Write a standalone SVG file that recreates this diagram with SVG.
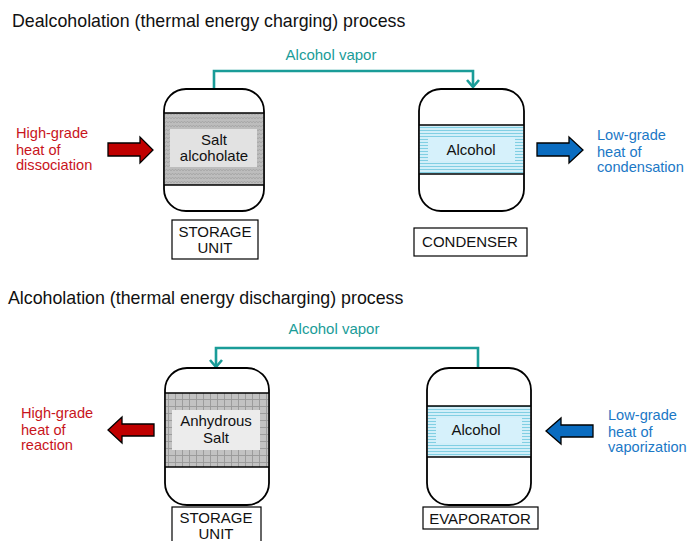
<svg xmlns="http://www.w3.org/2000/svg" width="688" height="541" viewBox="0 0 688 541">
  <style>
    text { font-family: "Liberation Sans", Arial, sans-serif; }
    .title { font-size: 17.8px; fill: #111; }
    .lbl { font-size: 15px; fill: #111; }
    .red { font-size: 14.6px; fill: #c8141c; }
    .blue { font-size: 14.6px; fill: #1b78c6; }
    .teal { font-size: 15px; fill: #1a9c98; }
    .vessel { fill: #fff; stroke: #000; stroke-width: 1.8; }
    .bandline { stroke: #000; stroke-width: 1.6; }
    .box { fill: #fff; stroke: #000; stroke-width: 1.2; }
    .pipe { fill: none; stroke: #1a9c98; stroke-width: 2.6; }
    .harrow { fill: #c00000; stroke: #000; stroke-width: 1.3; }
    .carrow { fill: #0a6cc0; stroke: #000; stroke-width: 1.3; }
  </style>
  <defs>
    <!-- fine zigzag texture for the alcoholate bed -->
    <pattern id="zigzag" width="6" height="4" patternUnits="userSpaceOnUse">
      <rect width="6" height="4" fill="#bdbdbd"/>
      <polyline points="0,3 1.5,1 3,3 4.5,1 6,3" fill="none" stroke="#9a9a9a" stroke-width="0.6"/>
    </pattern>
    <!-- grid texture for the anhydrous salt bed -->
    <pattern id="grid" width="7" height="7" patternUnits="userSpaceOnUse">
      <rect width="7" height="7" fill="#c2c2c2"/>
      <path d="M0,0.5 H7 M0.5,0 V7" stroke="#979797" stroke-width="0.9"/>
    </pattern>
    <!-- horizontal liquid lines -->
    <pattern id="liquid" width="10" height="3" patternUnits="userSpaceOnUse">
      <rect width="10" height="3" fill="#d2eff9"/>
      <line x1="0" y1="1.5" x2="10" y2="1.5" stroke="#6cc7dd" stroke-width="0.8"/>
    </pattern>
  </defs>

  <!-- section titles -->
  <text class="title" x="12" y="27">Dealcoholation (thermal energy charging) process</text>
  <text class="title" x="8" y="304">Alcoholation (thermal energy discharging) process</text>

  <!-- connectors -->
  <g id="connectors">
    <path class="pipe" d="M214,89 V71 H473 V87"/>
    <polyline points="467,80 473,87 479,80" fill="none" stroke="#1a9c98" stroke-width="2.6"/>
    <text class="teal" x="331" y="60" text-anchor="middle">Alcohol vapor</text>

    <path class="pipe" d="M478,368 V348 H216 V367"/>
    <polyline points="210,360 216,367 222,360" fill="none" stroke="#1a9c98" stroke-width="2.6"/>
    <text class="teal" x="334" y="334" text-anchor="middle">Alcohol vapor</text>

    <polygon class="harrow" points="108,143 140,143 140,137 153,150 140,163 140,156 108,156"/>
    <polygon class="carrow" points="537,143 569,143 569,137 583,150 569,163 569,156 537,156"/>
    <polygon class="harrow" points="154,424 122,424 122,417 108,430 122,443 122,436 154,436"/>
    <polygon class="carrow" points="593,425 561,425 561,418 546,431 561,444 561,437 593,437"/>
  </g>

  <!-- heat labels -->
  <g id="heat-in-top">
    <text class="red" x="16" y="138">High-grade</text>
    <text class="red" x="16" y="154.5">heat of</text>
    <text class="red" x="16" y="170">dissociation</text>
  </g>
  <g id="heat-out-top">
    <text class="blue" x="597" y="140">Low-grade</text>
    <text class="blue" x="597" y="156.5">heat of</text>
    <text class="blue" x="597" y="172">condensation</text>
  </g>
  <g id="heat-out-bottom">
    <text class="red" x="21" y="418">High-grade</text>
    <text class="red" x="21" y="434.5">heat of</text>
    <text class="red" x="21" y="450">reaction</text>
  </g>
  <g id="heat-in-bottom">
    <text class="blue" x="608" y="420">Low-grade</text>
    <text class="blue" x="608" y="436.5">heat of</text>
    <text class="blue" x="608" y="452">vaporization</text>
  </g>

  <!-- storage unit, charging -->
  <g id="storage-charge">
    <rect class="vessel" x="164" y="89" width="100" height="122" rx="22"/>
    <rect x="164.9" y="113" width="98.2" height="72" fill="url(#zigzag)"/>
    <line class="bandline" x1="164" y1="113" x2="264" y2="113"/>
    <line class="bandline" x1="164" y1="185" x2="264" y2="185"/>
    <rect x="170" y="129" width="87" height="38" fill="#e2e2e2"/>
    <text class="lbl" x="214" y="145" text-anchor="middle">Salt</text>
    <text class="lbl" x="214" y="161" text-anchor="middle">alcoholate</text>
    <rect class="box" x="172" y="220" width="86" height="39"/>
    <text class="lbl" x="215" y="237" text-anchor="middle">STORAGE</text>
    <text class="lbl" x="215" y="253" text-anchor="middle">UNIT</text>
  </g>

  <!-- condenser -->
  <g id="condenser">
    <rect class="vessel" x="419" y="89" width="105" height="122" rx="22"/>
    <rect x="419.9" y="125" width="103.2" height="49" fill="url(#liquid)"/>
    <rect x="428" y="137" width="87" height="24" fill="#d6f1fb"/>
    <line class="bandline" x1="419" y1="125" x2="524" y2="125"/>
    <line class="bandline" x1="419" y1="174" x2="524" y2="174"/>
    <text class="lbl" x="471" y="155" text-anchor="middle">Alcohol</text>
    <rect class="box" x="414" y="228" width="113" height="28"/>
    <text class="lbl" x="470" y="247" text-anchor="middle">CONDENSER</text>
  </g>

  <!-- storage unit, discharging -->
  <g id="storage-discharge">
    <rect class="vessel" x="165" y="368" width="104" height="137" rx="22"/>
    <rect x="165.9" y="393" width="102.2" height="74" fill="url(#grid)"/>
    <line class="bandline" x1="165" y1="393" x2="269" y2="393"/>
    <line class="bandline" x1="165" y1="467" x2="269" y2="467"/>
    <rect x="172" y="410" width="88" height="40" fill="#ececec"/>
    <text class="lbl" x="216" y="426" text-anchor="middle">Anhydrous</text>
    <text class="lbl" x="216" y="443" text-anchor="middle">Salt</text>
    <rect class="box" x="172" y="507" width="89" height="40"/>
    <text class="lbl" x="216" y="523" text-anchor="middle">STORAGE</text>
    <text class="lbl" x="216" y="539" text-anchor="middle">UNIT</text>
  </g>

  <!-- evaporator -->
  <g id="evaporator">
    <rect class="vessel" x="427" y="368" width="104" height="137" rx="22"/>
    <rect x="427.9" y="406" width="102.2" height="51" fill="url(#liquid)"/>
    <rect x="436" y="418" width="86" height="25" fill="#d6f1fb"/>
    <line class="bandline" x1="427" y1="406" x2="531" y2="406"/>
    <line class="bandline" x1="427" y1="457" x2="531" y2="457"/>
    <text class="lbl" x="476" y="435" text-anchor="middle">Alcohol</text>
    <rect class="box" x="423" y="507" width="115" height="22"/>
    <text class="lbl" x="480" y="524" text-anchor="middle">EVAPORATOR</text>
  </g>
</svg>
